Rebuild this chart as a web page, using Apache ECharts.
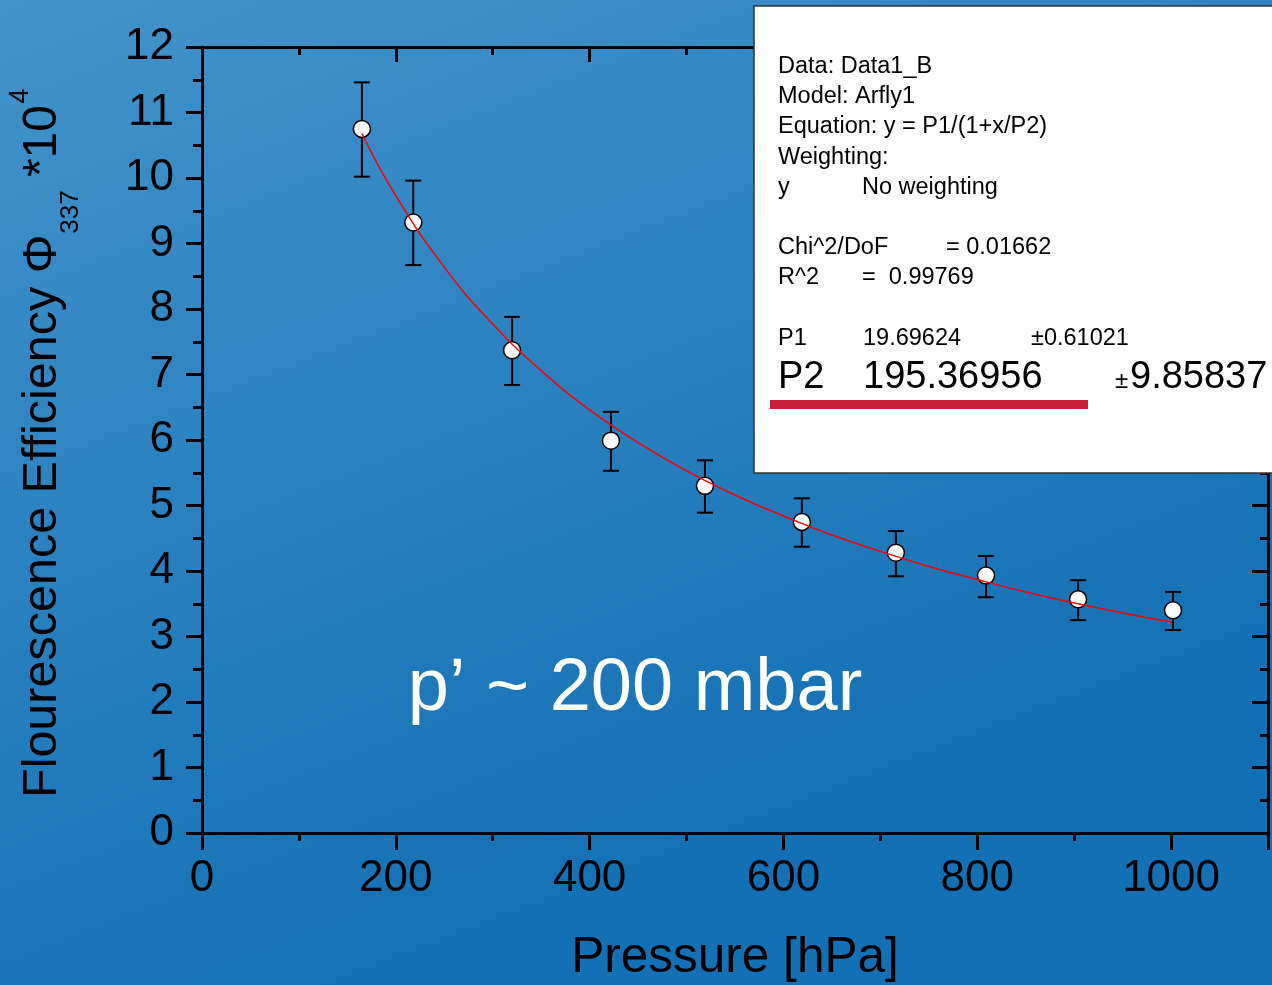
<!DOCTYPE html>
<html>
<head>
<meta charset="utf-8">
<script src="https://cdn.jsdelivr.net/npm/echarts@6/dist/echarts.min.js"></script>
<style>
  html, body { margin: 0; padding: 0; }
  #chart { width: 1272px; height: 985px; }
</style>
</head>
<body>
<div id="chart"></div>
<script>
// measured points (pressure, efficiency *10^4)
var pressure = [165, 218, 320, 422, 519, 619, 716, 809, 904, 1002];
var efficiency = [10.75, 9.32, 7.37, 5.99, 5.30, 4.75, 4.28, 3.93, 3.57, 3.40];
var errLow = [10.02, 8.67, 6.84, 5.53, 4.89, 4.37, 3.92, 3.60, 3.25, 3.10];
var errHigh = [11.46, 9.96, 7.88, 6.43, 5.69, 5.11, 4.61, 4.23, 3.86, 3.68];

// fitted curve
var fitX = [165, 200, 250, 300, 350, 400, 450, 500, 550, 600, 650, 700, 750, 800, 850, 900, 950, 1000];
var fitY = [10.68, 9.73, 8.64, 7.77, 7.06, 6.46, 5.96, 5.53, 5.16, 4.84, 4.55, 4.30, 4.07, 3.87, 3.68, 3.51, 3.36, 3.22];

var FONT = '"Liberation Sans", Arial, sans-serif';

var myChart = echarts.init(document.getElementById('chart'));

var points = pressure.map(function (x, i) { return [x, efficiency[i]]; });
var bars = pressure.map(function (x, i) { return [x, errLow[i], errHigh[i]]; });
var fit = fitX.map(function (x, i) { return [x, fitY[i]]; });

function boxText(x, y, text, size) {
    return {
        type: 'text', x: x, y: y, z: 102,
        style: { text: text, fill: '#000', font: size + 'px ' + FONT, textAlign: 'left', textVerticalAlign: 'middle' }
    };
}

myChart.setOption({
    backgroundColor: new echarts.graphic.LinearGradient(0, 0, 0.3, 1, [
        { offset: 0, color: '#4393cb' },
        { offset: 1, color: '#1370b4' }
    ]),
    animation: false,
    grid: { left: 202, right: 4, top: 47, bottom: 152, containLabel: false, outerBoundsMode: 'none' },
    xAxis: [
        {
            type: 'value', min: 0, max: 1100, interval: 200,
            name: 'Pressure [hPa]', nameLocation: 'middle', nameGap: 100,
            nameTextStyle: { color: '#000', fontSize: 49.5, fontFamily: FONT },
            axisLine: { show: true, onZero: false, lineStyle: { color: '#000', width: 3 } },
            axisTick: { show: true, inside: false, length: 17, lineStyle: { color: '#000', width: 3 } },
            minorTick: { show: true, splitNumber: 2, length: 8, lineStyle: { color: '#000', width: 3 } },
            axisLabel: { color: '#000', fontSize: 44, fontFamily: FONT, margin: 24,
                formatter: function (v) { return v > 1000 ? '' : v; } },
            splitLine: { show: false }
        },
        {
            type: 'value', min: 0, max: 1100, interval: 200, position: 'top',
            axisLine: { show: true, onZero: false, lineStyle: { color: '#000', width: 3 } },
            axisTick: { show: true, inside: true, length: 15, lineStyle: { color: '#000', width: 3 } },
            minorTick: { show: true, splitNumber: 2, length: 8, lineStyle: { color: '#000', width: 3 } },
            axisLabel: { show: false },
            splitLine: { show: false }
        }
    ],
    yAxis: [
        {
            type: 'value', min: 0, max: 12, interval: 1,
            axisLine: { show: true, onZero: false, lineStyle: { color: '#000', width: 3 } },
            axisTick: { show: true, inside: false, length: 16, lineStyle: { color: '#000', width: 3 } },
            minorTick: { show: true, splitNumber: 2, length: 9, lineStyle: { color: '#000', width: 3 } },
            axisLabel: { color: '#000', fontSize: 44, fontFamily: FONT, margin: 28 },
            splitLine: { show: false }
        },
        {
            type: 'value', min: 0, max: 12, interval: 1, position: 'right',
            axisLine: { show: true, onZero: false, lineStyle: { color: '#000', width: 3 } },
            axisTick: { show: true, inside: true, length: 16, lineStyle: { color: '#000', width: 3 } },
            minorTick: { show: true, splitNumber: 2, length: 8, lineStyle: { color: '#000', width: 3 } },
            axisLabel: { show: false },
            splitLine: { show: false }
        }
    ],
    series: [
        {
            type: 'custom',
            z: 2,
            data: bars,
            renderItem: function (params, api) {
                var x = api.value(0);
                var lo = api.coord([x, api.value(1)]);
                var hi = api.coord([x, api.value(2)]);
                var w = 8;
                var st = { stroke: '#000', lineWidth: 2 };
                return {
                    type: 'group',
                    children: [
                        { type: 'line', shape: { x1: lo[0], y1: lo[1], x2: hi[0], y2: hi[1] }, style: st },
                        { type: 'line', shape: { x1: lo[0] - w, y1: lo[1], x2: lo[0] + w, y2: lo[1] }, style: st },
                        { type: 'line', shape: { x1: hi[0] - w, y1: hi[1], x2: hi[0] + w, y2: hi[1] }, style: st }
                    ]
                };
            }
        },
        {
            type: 'scatter',
            z: 3,
            data: points,
            symbol: 'circle',
            symbolSize: 17,
            itemStyle: { color: '#fff', borderColor: '#000', borderWidth: 1.5, opacity: 1 }
        },
        {
            type: 'line',
            z: 4,
            data: fit,
            smooth: true,
            showSymbol: false,
            lineStyle: { color: '#ff0000', width: 1.5 }
        }
    ],
    graphic: [
        // y axis title
        { type: 'text', x: 43, y: 798, rotation: Math.PI / 2, z: 50,
          style: { text: 'Flourescence Efficiency Φ', fill: '#000', font: '48.5px ' + FONT, textAlign: 'left', textVerticalAlign: 'middle' } },
        { type: 'text', x: 71, y: 212, rotation: Math.PI / 2, z: 50,
          style: { text: '337', fill: '#000', font: '26px ' + FONT, textAlign: 'center', textVerticalAlign: 'middle' } },
        { type: 'text', x: 43, y: 105, rotation: Math.PI / 2, z: 50,
          style: { text: '*10', fill: '#000', font: '48px ' + FONT, textAlign: 'right', textVerticalAlign: 'middle' } },
        { type: 'text', x: 21, y: 96, rotation: Math.PI / 2, z: 50,
          style: { text: '4', fill: '#000', font: '27px ' + FONT, textAlign: 'center', textVerticalAlign: 'middle' } },
        // annotation
        { type: 'text', x: 635, y: 690, z: 50,
          style: { text: 'p’ ~ 200 mbar', fill: '#fff', font: '74px ' + FONT, textAlign: 'center', textVerticalAlign: 'middle' } },
        // fit results box
        { type: 'rect', z: 100, shape: { x: 754, y: 6, width: 530, height: 467 },
          style: { fill: '#fff', stroke: '#333', lineWidth: 1.5 } },
        boxText(778, 67, 'Data: Data1_B', 23.5),
        boxText(778, 97, 'Model: Arfly1', 23.5),
        boxText(778, 127, 'Equation: y = P1/(1+x/P2)', 23.5),
        boxText(778, 158, 'Weighting:', 23.5),
        boxText(778, 188, 'y', 23.5),
        boxText(862, 188, 'No weighting', 23.5),
        boxText(778, 248, 'Chi^2/DoF', 23.5),
        boxText(946, 248, '= 0.01662', 23.5),
        boxText(778, 278, 'R^2', 23.5),
        boxText(862, 278, '=  0.99769', 23.5),
        boxText(778, 339, 'P1', 23.5),
        boxText(863, 339, '19.69624', 23.5),
        boxText(1031, 339, '±0.61021', 23.5),
        boxText(778, 378, 'P2', 38),
        boxText(863, 378, '195.36956', 38),
        boxText(1115, 381, '±', 24),
        boxText(1130, 378, '9.85837', 38),
        { type: 'rect', z: 101, shape: { x: 770, y: 400, width: 318, height: 9 },
          style: { fill: '#c8203c' } }
    ]
});
</script>
</body>
</html>
